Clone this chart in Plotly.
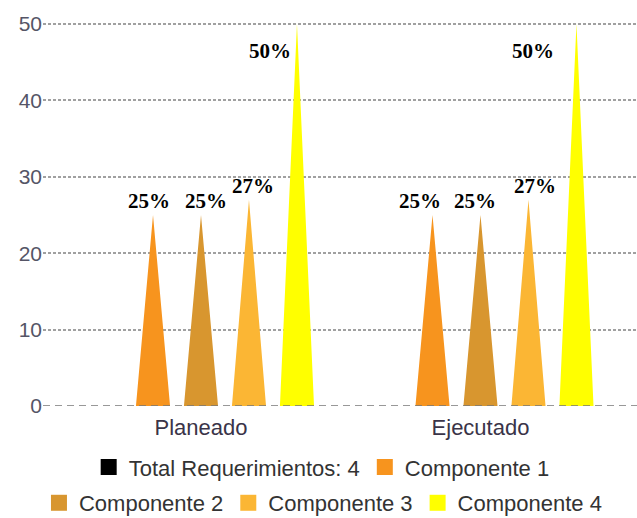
import plotly.graph_objects as go

# Categories and series
categories = ["Planeado", "Ejecutado"]
series_names = ["Total Requerimientos: 4", "Componente 1", "Componente 2",
                "Componente 3", "Componente 4"]
series_colors = ["#000000", "#F7941E", "#D8962F", "#FBB634", "#FFFF00"]

total_req = [0, 0]
componente_1 = [25, 25]
componente_2 = [25, 25]
componente_3 = [27, 27]
componente_4 = [50, 50]
series_values = [total_req, componente_1, componente_2, componente_3, componente_4]

y_ticks = [0, 10, 20, 30, 40, 50]

# Geometry of the pyramid-shaped columns (in category units)
slot_step = 0.1717
half_base = 0.061
n_series = len(series_names)

fig = go.Figure()

label_font = dict(family="Liberation Serif", size=21, color="#000000")
# pixel nudges for the value labels, per category / series
label_dx = [[0, -4, 5, 4, -4], [0, -13, -5, 7, -20]]
label_dy = [[0, 0, 0, 0, -41], [0, 0, 0, 0, -41]]

annotations = []
for s, (name, color, vals) in enumerate(zip(series_names, series_colors, series_values)):
    xs, ys = [], []
    for c, v in enumerate(vals):
        xc = c + (s - (n_series - 1) / 2) * slot_step
        xs += [xc - half_base, xc, xc + half_base, xc - half_base, None]
        ys += [0, v, 0, 0, None]
        if v > 0:
            anchor = "right" if v >= 50 else "center"
            annotations.append(dict(
                x=xc, y=v, xref="x", yref="y", text=f"<b>{v}%</b>",
                showarrow=False, font=label_font, xanchor=anchor, yanchor="bottom",
                xshift=label_dx[c][s], yshift=label_dy[c][s]))
    fig.add_trace(go.Scatter(
        x=xs, y=ys, mode="lines", fill="toself", fillcolor=color,
        line=dict(width=0, color=color), hoverinfo="skip", showlegend=False))
    # legend swatch
    fig.add_trace(go.Scatter(
        x=[None], y=[None], mode="markers", name=name,
        marker=dict(symbol="square", size=16, color=color),
        legend="legend" if s < 2 else "legend2"))

fig.add_shape(type="line", xref="paper", yref="y", x0=0, x1=1, y0=0, y1=0,
              line=dict(color="#777777", width=1.6, dash="7px,5px"), layer="above")

legend_style = dict(orientation="h", xref="container", yref="container",
                    xanchor="center", yanchor="middle",
                    font=dict(family="Liberation Sans", size=22, color="#333333"),
                    bgcolor="rgba(0,0,0,0)", itemclick=False, itemdoubleclick=False)

fig.update_layout(
    width=637, height=518,
    margin=dict(l=43, r=0, t=22, b=112),
    plot_bgcolor="#FFFFFF", paper_bgcolor="#FFFFFF",
    annotations=annotations,
    legend=dict(x=0.505, y=0.098, **legend_style),
    legend2=dict(x=0.507, y=0.029, **legend_style),
    xaxis=dict(range=[-0.5653, 1.56], tickmode="array", tickvals=[0, 1],
               ticktext=categories, showgrid=False, zeroline=False,
               showline=False, ticks="", ticklabelstandoff=6,
               tickfont=dict(family="Liberation Sans", size=22, color="#3a3448")),
    yaxis=dict(range=[0, 50.25], tickmode="array", tickvals=y_ticks,
               ticktext=[str(t) for t in y_ticks],
               showgrid=True, gridcolor="#a0a0a0", gridwidth=1.8, griddash="3px,2px",
               zeroline=False, showline=False, ticks="",
               tickfont=dict(family="Liberation Sans", size=21, color="#555566")),
)

fig.write_html("out.html")
